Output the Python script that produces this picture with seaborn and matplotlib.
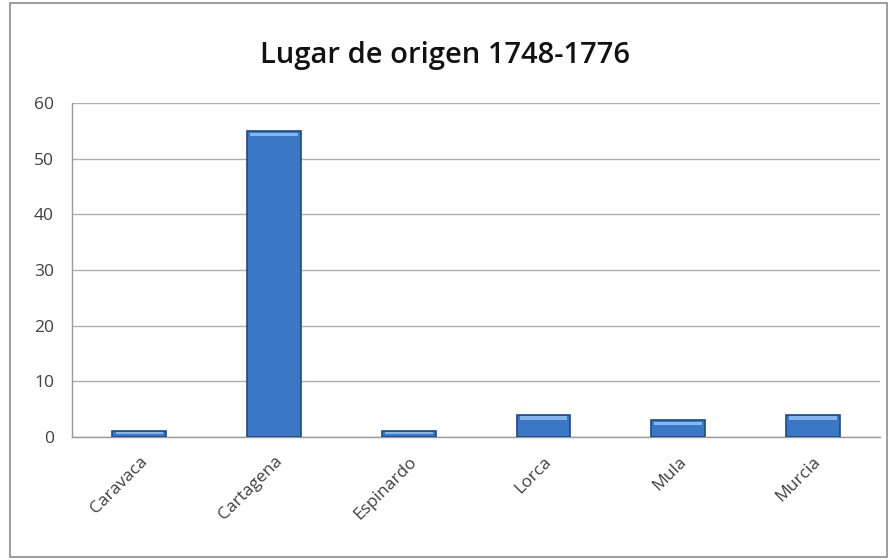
import numpy as np
import matplotlib
matplotlib.use('Agg')
import matplotlib.pyplot as plt
import seaborn as sns
from matplotlib.patches import Rectangle

# ── data ──────────────────────────────────────────────────────────────────────
places = ['Caravaca', 'Cartagena', 'Espinardo', 'Lorca', 'Mula', 'Murcia']
counts = [1, 55, 1, 4, 3, 4]
y_ticks = [0, 10, 20, 30, 40, 50, 60]
title = 'Lugar de origen 1748-1776'

sns.set_style('white')
plt.rcParams['font.family'] = ['Open Sans', 'DejaVu Sans']

fig = plt.figure(figsize=(8.9, 5.6), dpi=100)
ax = fig.add_axes([0.081, 0.22, 0.908, 0.596])

sns.barplot(x=places, y=counts, color='#3A78C6', saturation=1, width=0.4,
            edgecolor='#1F4A80', linewidth=1.2, ax=ax, zorder=3)

# light top highlight on each bar
for bar in ax.patches:
    x0, w, h = bar.get_x(), bar.get_width(), bar.get_height()
    ax.add_patch(Rectangle((x0 + w * 0.06, h - min(0.9, h * 0.5)), w * 0.88, min(0.6, h * 0.35),
                           color='#86B6EC', lw=0, zorder=4))

ax.set_ylim(0, 60)
ax.set_xlim(-0.5, len(places) - 0.5)
ax.set_yticks(y_ticks)
ax.yaxis.grid(True, color='#B0B0B0', lw=1.0, zorder=0)
ax.set_axisbelow(True)

for s in ['top', 'right']:
    ax.spines[s].set_visible(False)
for s in ['left', 'bottom']:
    ax.spines[s].set_color('#9A9A9A')
    ax.spines[s].set_linewidth(1.0)

ax.set_xticks(range(len(places)))
ax.set_xticklabels(places, rotation=45, ha='right', rotation_mode='anchor',
                   fontsize=12.5, color='#404040')
ax.set_xticks(np.arange(-0.5, len(places)), minor=True)
ax.tick_params(axis='x', which='major', length=0, pad=12)
ax.tick_params(axis='x', which='minor', length=5, color='#9A9A9A', direction='out')
ax.tick_params(axis='y', length=5, color='#9A9A9A', direction='out',
               labelsize=12.5, labelcolor='#404040', pad=8)
ax.set_xlabel('')
ax.set_ylabel('')

fig.text(0.5, 0.9, title, ha='center', va='center', fontsize=21,
         fontweight='semibold', color='#111111')

# chart frame
fig.patches.append(Rectangle((0.011, 0.006), 0.986, 0.988, transform=fig.transFigure,
                             fill=False, edgecolor='#8C8C8C', lw=1.2))

fig.savefig('out.png', dpi=100)
